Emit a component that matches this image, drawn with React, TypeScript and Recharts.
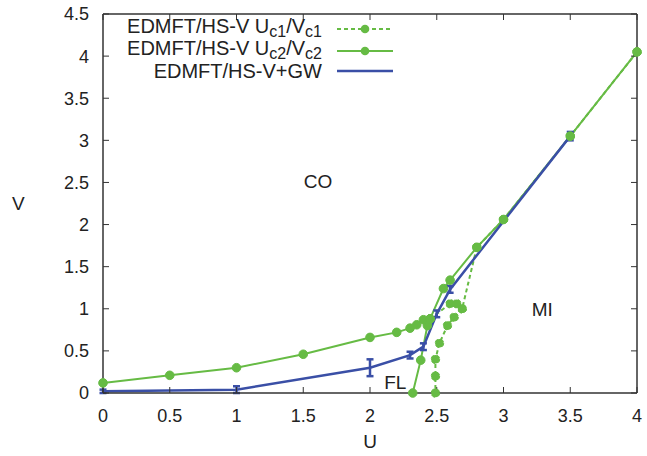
import {
  ErrorBar,
  Line,
  LineChart,
  ReferenceDot,
  XAxis,
  YAxis,
} from "recharts";

const GREEN = "#66bb44";
const BLUE = "#3a4fa6";
const AXIS = "#333333";
const FONT = "'Liberation Sans', Arial, sans-serif";

const xTicks = [0, 0.5, 1, 1.5, 2, 2.5, 3, 3.5, 4];
const yTicks = [0, 0.5, 1, 1.5, 2, 2.5, 3, 3.5, 4, 4.5];

// EDMFT/HS-V Uc2/Vc2 (solid), main branch
const c2U = [0, 0.5, 1, 1.5, 2, 2.2, 2.3, 2.35, 2.4, 2.45, 2.55, 2.6, 2.8, 3, 3.5, 4];
const c2V = [0.12, 0.21, 0.3, 0.46, 0.66, 0.72, 0.77, 0.81, 0.87, 0.88, 1.24, 1.34, 1.73, 2.06, 3.05, 4.05];
// lower FL branch
const c2bU = [2.32, 2.38, 2.43, 2.45];
const c2bV = [0, 0.39, 0.8, 0.88];

// EDMFT/HS-V Uc1/Vc1 (dotted)
const c1U = [2.45, 2.6, 2.65, 2.69, 2.8, 3, 3.5, 4];
const c1V = [0.88, 1.06, 1.06, 1.0, 1.73, 2.06, 3.05, 4.05];
const c1bU = [2.69, 2.63, 2.58, 2.52, 2.49, 2.49, 2.49];
const c1bV = [1.0, 0.9, 0.8, 0.59, 0.4, 0.2, 0];

// EDMFT/HS-V+GW with error bars
const gwU = [0, 1, 2, 2.3, 2.4, 2.5, 2.6, 3.5];
const gwV = [0.02, 0.04, 0.3, 0.45, 0.55, 0.94, 1.23, 3.05];
const gwErr = [0.02, 0.04, 0.1, 0.04, 0.04, 0.04, 0.04, 0.05];

const zip = (us: number[], vs: number[], err?: number[]) =>
  us.map((u, i) => ({ u, v: vs[i], err: err ? err[i] : 0 }));

const c2Data = zip(c2U, c2V);
const c2bData = zip(c2bU, c2bV);
const c1Data = zip(c1U, c1V);
const c1bData = zip(c1bU, c1bV);
const gwData = zip(gwU, gwV, gwErr);

const dot = { r: 4.3, fill: GREEN, stroke: GREEN, strokeWidth: 1 };
const tickStyle = { fill: "#222", fontSize: 18, fontFamily: FONT };
const regionLabel = (value: string) => ({
  value,
  position: "center" as const,
  fill: "#222",
  fontSize: 19,
  fontFamily: FONT,
});

function LegendOverlay() {
  const rows = [
    { y: 33, sub: "c1", ly: 29, dash: "4 3" },
    { y: 55, sub: "c2", ly: 51, dash: undefined },
  ];
  return (
    <svg
      width={647}
      height={456}
      style={{ position: "absolute", left: 0, top: 0, pointerEvents: "none" }}
    >
      {rows.map((r) => (
        <g key={r.sub}>
          <text x={322} y={r.y} textAnchor="end" fontSize={20} fontFamily={FONT} fill="#222">
            EDMFT/HS-V U
            <tspan fontSize={16} dy={4}>{r.sub}</tspan>
            <tspan dy={-4}>/V</tspan>
            <tspan fontSize={16} dy={4}>{r.sub}</tspan>
          </text>
          <line x1={337} x2={393} y1={r.ly} y2={r.ly} stroke={GREEN} strokeWidth={2} strokeDasharray={r.dash} />
          <circle cx={365} cy={r.ly} r={4.3} fill={GREEN} />
        </g>
      ))}
      <text x={322} y={78} textAnchor="end" fontSize={20} fontFamily={FONT} fill="#222">
        EDMFT/HS-V+GW
      </text>
      <line x1={337} x2={393} y1={71} y2={71} stroke={BLUE} strokeWidth={2.5} />
    </svg>
  );
}

export default function App() {
  return (
    <div style={{ position: "absolute", left: 0, top: 0, width: 647, height: 456, background: "#fff" }}>
      <LineChart width={647} height={456} margin={{ top: 0, right: 0, bottom: 0, left: 0 }}>
        <XAxis
          type="number"
          dataKey="u"
          domain={[0, 4]}
          ticks={xTicks}
          height={63}
          tickSize={-6}
          tickMargin={22}
          tick={tickStyle}
          stroke={AXIS}
          axisLine={{ stroke: AXIS, strokeWidth: 1.5 }}
          label={{ value: "U", position: "insideBottom", offset: 8, fill: "#222", fontSize: 19, fontFamily: FONT }}
        />
        <XAxis
          xAxisId="top"
          orientation="top"
          type="number"
          dataKey="u"
          domain={[0, 4]}
          ticks={xTicks}
          height={14}
          tickSize={-6}
          tickFormatter={() => ""}
          stroke={AXIS}
          axisLine={{ stroke: AXIS, strokeWidth: 1.5 }}
        />
        <YAxis
          type="number"
          domain={[0, 4.5]}
          ticks={yTicks}
          width={103}
          tickSize={-6}
          tickMargin={20}
          tick={tickStyle}
          stroke={AXIS}
          axisLine={{ stroke: AXIS, strokeWidth: 1.5 }}
          label={{ value: "V", position: "insideLeft", offset: 12, fill: "#222", fontSize: 19, fontFamily: FONT }}
        />
        <YAxis
          yAxisId="right"
          orientation="right"
          type="number"
          domain={[0, 4.5]}
          ticks={yTicks}
          width={10}
          tickSize={-6}
          tickFormatter={() => ""}
          stroke={AXIS}
          axisLine={{ stroke: AXIS, strokeWidth: 1.5 }}
        />
        <Line
          xAxisId="top"
          yAxisId="right"
          data={c2Data}
          dataKey="v"
          stroke="none"
          dot={false}
          isAnimationActive={false}
        />
        <Line data={c1Data} dataKey="v" stroke={GREEN} strokeWidth={2} strokeDasharray="4 3" dot={dot} isAnimationActive={false} />
        <Line data={c1bData} dataKey="v" stroke={GREEN} strokeWidth={2} strokeDasharray="4 3" dot={dot} isAnimationActive={false} />
        <Line data={c2bData} dataKey="v" stroke={GREEN} strokeWidth={2} dot={dot} isAnimationActive={false} />
        <Line data={c2Data} dataKey="v" stroke={GREEN} strokeWidth={2} dot={dot} isAnimationActive={false} />
        <Line data={gwData} dataKey="v" stroke={BLUE} strokeWidth={2.5} dot={false} isAnimationActive={false}>
          <ErrorBar dataKey="err" width={3.5} stroke={BLUE} strokeWidth={2.5} direction="y" />
        </Line>
        <ReferenceDot x={1.61} y={2.51} r={0} fill="none" stroke="none" label={regionLabel("CO")} />
        <ReferenceDot x={2.19} y={0.13} r={0} fill="none" stroke="none" label={regionLabel("FL")} />
        <ReferenceDot x={3.29} y={0.99} r={0} fill="none" stroke="none" label={regionLabel("MI")} />
      </LineChart>
      <LegendOverlay />
    </div>
  );
}
